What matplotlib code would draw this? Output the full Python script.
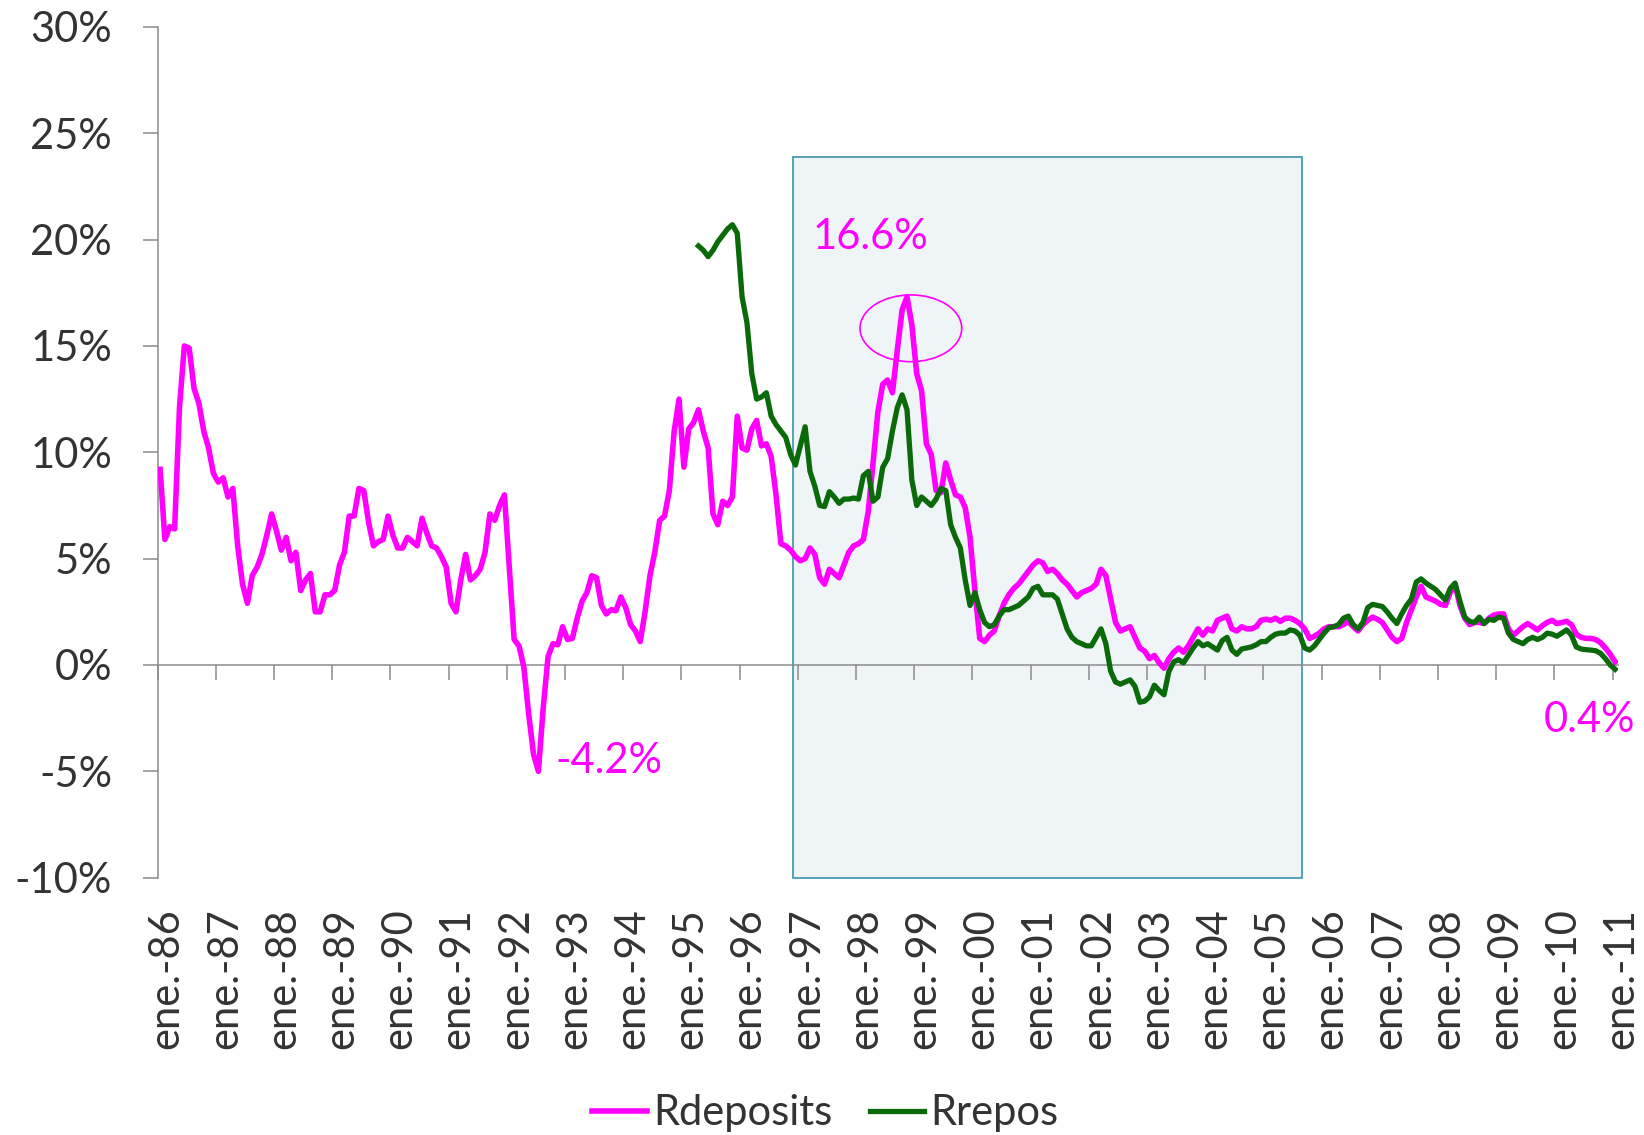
import numpy as np
import matplotlib
matplotlib.use('Agg')
import matplotlib.pyplot as plt
from matplotlib.patches import Rectangle, Ellipse
from matplotlib.transforms import ScaledTranslation

# monthly values, Jan 1986 .. Jan 2011 (%)
rdeposits = [
    9.2, 5.9, 6.5, 6.4, 12.1, 15.0, 14.9, 13.0, 12.3, 11.0, 10.2, 9.0,      # 1986
    8.6, 8.8, 7.9, 8.3, 5.6, 3.8, 2.9, 4.2, 4.6, 5.2, 6.1, 7.1,             # 1987
    6.3, 5.4, 6.0, 4.9, 5.3, 3.5, 4.0, 4.3, 2.5, 2.5, 3.3, 3.3,             # 1988
    3.5, 4.7, 5.3, 7.0, 7.0, 8.3, 8.2, 6.7, 5.6, 5.8, 5.9, 7.0,             # 1989
    6.1, 5.5, 5.5, 6.0, 5.8, 5.6, 6.9, 6.2, 5.6, 5.5, 5.1, 4.6,             # 1990
    2.9, 2.5, 4.0, 5.2, 4.0, 4.2, 4.5, 5.3, 7.1, 6.8, 7.5, 8.0,             # 1991
    4.6, 1.2, 0.9, -0.1, -2.3, -4.2, -5.0, -2.0, 0.4, 1.0, 0.95, 1.8,       # 1992
    1.2, 1.25, 2.2, 3.0, 3.4, 4.2, 4.1, 2.8, 2.4, 2.6, 2.55, 3.2,           # 1993
    2.7, 1.9, 1.6, 1.1, 2.5, 4.2, 5.3, 6.8, 7.0, 8.2, 11.0, 12.5,           # 1994
    9.3, 11.1, 11.4, 12.0, 11.0, 10.2, 7.1, 6.6, 7.7, 7.5, 7.9, 11.7,       # 1995
    10.2, 10.1, 11.1, 11.5, 10.3, 10.4, 9.8, 8.0, 5.7, 5.6, 5.4, 5.1,       # 1996
    4.9, 5.0, 5.5, 5.2, 4.1, 3.8, 4.5, 4.3, 4.1, 4.7, 5.3, 5.6,             # 1997
    5.7, 5.9, 7.2, 9.5, 11.9, 13.2, 13.4, 12.8, 14.8, 16.7, 17.3, 16.0,     # 1998
    13.7, 12.9, 10.4, 9.9, 8.2, 8.1, 9.5, 8.7, 8.0, 7.9, 7.4, 6.0,          # 1999
    3.5, 1.25, 1.1, 1.4, 1.6, 2.3, 2.9, 3.3, 3.6, 3.8, 4.1, 4.4,            # 2000
    4.7, 4.9, 4.8, 4.4, 4.5, 4.3, 4.0, 3.8, 3.5, 3.2, 3.4, 3.5,             # 2001
    3.6, 3.8, 4.5, 4.2, 3.1, 2.0, 1.6, 1.7, 1.8, 1.3, 0.8, 0.65,            # 2002
    0.3, 0.45, 0.1, -0.15, 0.3, 0.6, 0.8, 0.6, 0.9, 1.3, 1.7, 1.4,          # 2003
    1.7, 1.6, 2.1, 2.2, 2.3, 1.7, 1.6, 1.8, 1.7, 1.7, 1.8, 2.1,             # 2004
    2.15, 2.1, 2.2, 2.05, 2.2, 2.2, 2.1, 1.95, 1.7, 1.25, 1.35, 1.5,        # 2005
    1.7, 1.8, 1.8, 1.8, 1.9, 2.05, 1.8, 1.6, 1.9, 2.1, 2.25, 2.15,          # 2006
    2.0, 1.65, 1.3, 1.1, 1.25, 2.0, 2.6, 3.2, 3.7, 3.2, 3.1, 3.0,           # 2007
    2.85, 2.8, 3.4, 3.8, 2.8, 2.2, 1.9, 2.0, 2.0, 1.95, 2.2, 2.35,          # 2008
    2.4, 2.4, 1.7, 1.4, 1.6, 1.8, 1.95, 1.8, 1.65, 1.85, 2.0, 2.1,          # 2009
    1.95, 2.0, 2.05, 1.9, 1.45, 1.3, 1.25, 1.25, 1.2, 1.05, 0.8, 0.5,       # 2010
    0.15,                                                                    # 2011
]

# Rrepos starts in Apr 1995 (month 111 counted from Jan 1986)
rrepos_start = 111
rrepos = [
    19.7, 19.5, 19.2, 19.5, 19.9, 20.2, 20.5, 20.7, 20.3,                   # 1995
    17.3, 16.1, 13.7, 12.5, 12.6, 12.8, 11.7, 11.3, 11.0, 10.7, 9.9, 9.4,   # 1996
    10.3, 11.2, 9.1, 8.4, 7.5, 7.45, 8.15, 7.9, 7.6, 7.8, 7.8, 7.85,        # 1997
    7.8, 8.9, 9.1, 7.7, 7.9, 9.3, 9.7, 11.0, 12.1, 12.7, 12.0, 8.7,         # 1998
    7.5, 7.9, 7.7, 7.5, 7.8, 8.3, 8.2, 6.6, 6.0, 5.5, 4.0, 2.8,             # 1999
    3.4, 2.6, 2.0, 1.8, 1.9, 2.3, 2.6, 2.6, 2.7, 2.8, 3.0, 3.2,             # 2000
    3.6, 3.7, 3.3, 3.3, 3.3, 3.1, 2.4, 1.7, 1.3, 1.1, 1.0, 0.9,             # 2001
    0.9, 1.3, 1.7, 1.0, -0.3, -0.8, -0.9, -0.8, -0.7, -1.0, -1.75, -1.7,    # 2002
    -1.5, -0.95, -1.2, -1.4, -0.3, 0.15, 0.25, 0.1, 0.45, 0.8, 1.1, 0.9,    # 2003
    1.0, 0.85, 0.7, 1.15, 1.3, 0.7, 0.5, 0.75, 0.8, 0.85, 0.95, 1.1,        # 2004
    1.1, 1.3, 1.45, 1.5, 1.5, 1.65, 1.6, 1.4, 0.8, 0.7, 0.9, 1.2,           # 2005
    1.5, 1.75, 1.8, 1.9, 2.2, 2.3, 1.9, 1.7, 2.0, 2.7, 2.85, 2.8,           # 2006
    2.75, 2.5, 2.2, 1.95, 2.4, 2.8, 3.1, 3.9, 4.05, 3.85, 3.7, 3.55,        # 2007
    3.3, 3.05, 3.6, 3.85, 3.0, 2.25, 2.05, 2.0, 2.25, 1.95, 2.15, 2.1,      # 2008
    2.25, 2.2, 1.5, 1.2, 1.1, 1.0, 1.2, 1.3, 1.2, 1.3, 1.5, 1.45,           # 2009
    1.35, 1.5, 1.65, 1.4, 0.85, 0.75, 0.72, 0.7, 0.67, 0.55, 0.3, 0.0,      # 2010
    -0.2,                                                                    # 2011
]

years = list(range(1986, 2012))
tick_labels = ['ene.-%02d' % (y % 100) for y in years]
y_ticks = [-10, -5, 0, 5, 10, 15, 20, 25, 30]

PINK = '#FF00FF'
GREEN = '#0A6A0A'
GREY = '#8C8C8C'
TEXT = '#333333'

plt.rcParams['font.family'] = ['Lato', 'DejaVu Sans']

fig = plt.figure(figsize=(16.44, 11.35), dpi=100)
ax = fig.add_axes([0.0959, 0.2267, 0.888, 0.7496])

x_dep = np.arange(len(rdeposits)) + 0.5
x_rep = np.arange(rrepos_start, rrepos_start + len(rrepos)) + 0.5
year_ticks = [12 * k for k in range(len(years))]

ax.set_xlim(0, len(rdeposits))
ax.set_ylim(-10, 30)

# shaded period
ax.add_patch(Rectangle((131.05, -10), 104.95, 33.87, facecolor='#EFF4F7',
                       edgecolor='#4A9BB5', lw=1.3, zorder=1, clip_on=False))

l1, = ax.plot(x_dep, rdeposits, color=PINK, lw=4.0, zorder=3,
              solid_joinstyle='round', label='Rdeposits')
l2, = ax.plot(x_rep, rrepos, color=GREEN, lw=3.8, zorder=4,
              solid_joinstyle='round', label='Rrepos')

ax.add_patch(Ellipse((155.3, 15.83), 20.97, 3.14, fill=False,
                     edgecolor=PINK, lw=1.2, zorder=5))

ax.text(135.1, 20.1, '16.6%', color=PINK, fontsize=30, va='center', ha='left')
ax.text(82.1, -4.5, '-4.2%', color=PINK, fontsize=30, va='center', ha='left')
ax.text(285.8, -2.6, '0.4%', color=PINK, fontsize=30, va='center', ha='left',
        clip_on=False)

# y axis
ax.set_yticks(y_ticks, labels=['%d%%' % v for v in y_ticks])
ax.tick_params(axis='y', direction='out', length=10.8, width=1.1, color=GREY,
               labelsize=30, labelcolor=TEXT, pad=22)
for s in ['top', 'right', 'bottom']:
    ax.spines[s].set_visible(False)
ax.spines['left'].set_color(GREY)
ax.spines['left'].set_linewidth(1.1)

# x labels at the bottom of the plot
ax.set_xticks(year_ticks, labels=tick_labels, rotation=90)
ax.tick_params(axis='x', length=0, labelsize=30, labelcolor=TEXT, pad=22)
shift = ScaledTranslation(0.09, 0, fig.dpi_scale_trans)
for lab in ax.get_xticklabels():
    lab.set_transform(lab.get_transform() + shift)

# zero line with year tick marks
ymin, ymax = ax.get_ylim()
sec = ax.secondary_xaxis((0 - ymin) / (ymax - ymin))
sec.set_xticks(year_ticks)
sec.tick_params(axis='x', direction='out', length=10.8, width=1.1, color=GREY,
                labelbottom=False, labeltop=False)
sec.spines['bottom'].set_color(GREY)
sec.spines['bottom'].set_linewidth(1.1)
sec.set_zorder(2)

fig.legend(handles=[l1, l2], loc='center', bbox_to_anchor=(0.502, 0.019),
           ncol=2, frameon=False, fontsize=30, handlelength=1.3,
           handletextpad=0.15, columnspacing=0.9, labelcolor=TEXT)

fig.savefig('out.png', dpi=100)
